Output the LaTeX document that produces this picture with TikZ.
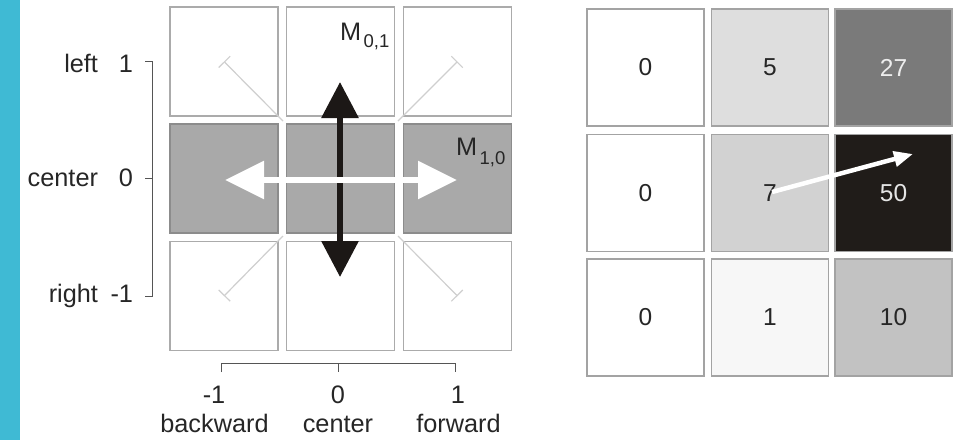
\documentclass[tikz,border=0pt]{standalone}
\usepackage{fontspec}
\setmainfont{Liberation Sans}
\usetikzlibrary{arrows.meta}
\definecolor{bluebar}{HTML}{3FBAD4}
\definecolor{boxedge}{HTML}{ABABAB}
\definecolor{midfill}{HTML}{A9A9A9}
\definecolor{midedge}{HTML}{8C8C8C}
\definecolor{diagc}{HTML}{CFCFCF}
\definecolor{txt}{HTML}{262626}
\definecolor{axisc}{HTML}{555555}
\definecolor{blk}{HTML}{1C1816}
\definecolor{cA}{HTML}{FFFFFF}
\definecolor{cB}{HTML}{DEDEDE}
\definecolor{cC}{HTML}{7A7A7A}
\definecolor{cD}{HTML}{D2D2D2}
\definecolor{cE}{HTML}{201C19}
\definecolor{cF}{HTML}{F7F7F7}
\definecolor{cG}{HTML}{C2C2C2}
\definecolor{rimc}{HTML}{A3A3A3}
\begin{document}
\begin{tikzpicture}[x=1pt,y=-1pt,
  lbox/.style={draw=boxedge, line width=1.5pt, fill=white, minimum width=108pt, minimum height=109pt, inner sep=0pt, outer sep=0pt},
  mbox/.style={lbox, draw=midedge, fill=midfill},
  rbox/.style={draw=rimc, line width=1.5pt, minimum width=117pt, minimum height=117pt, inner sep=0pt, outer sep=0pt, font=\fontsize{24.5}{28}\selectfont, text=txt},
  lab/.style={font=\fontsize{25.3}{29}\selectfont, text=txt, inner sep=0pt, outer sep=0pt},
  diag/.style={draw=diagc, line width=1.2pt, -{Bar[width=16pt, line width=1.2pt]}},
  axisline/.style={draw=axisc, line width=1pt}
]
\useasboundingbox (0,0) rectangle (959,440);
\fill[bluebar] (0,0) rectangle (20,440);

% left grid
\node[lbox] (L11) at (224,61.5) {};
\node[lbox] (L12) at (340.5,61.5) {};
\node[lbox] (L13) at (457.5,61.5) {};
\node[mbox] (L21) at (224,178.5) {};
\node[mbox] (L22) at (340.5,178.5) {};
\node[mbox] (L23) at (457.5,178.5) {};
\node[lbox] (L31) at (224,296) {};
\node[lbox] (L32) at (340.5,296) {};
\node[lbox] (L33) at (457.5,296) {};

% gap intersections
\coordinate (g1) at (283,121);
\coordinate (g2) at (398,121);
\coordinate (g3) at (283,236);
\coordinate (g4) at (398,236);
\draw[diag] (g1) -- (L11.center);
\draw[diag] (g2) -- (L13.center);
\draw[diag] (g3) -- (L31.center);
\draw[diag] (g4) -- (L33.center);

% black vertical double arrow
\coordinate (bt) at (340,82);
\coordinate (bb) at (340,277);
\draw[blk, line width=6pt, {Triangle[length=36pt,width=36pt]}-{Triangle[length=36pt,width=36pt]}] (bt) -- (bb);
% white horizontal double arrow
\coordinate (wl) at (225,180);
\coordinate (wr) at (457,180);
\draw[white, line width=6pt, {Triangle[length=39pt,width=37pt]}-{Triangle[length=39pt,width=37pt]}] (wl) -- (wr);

% M labels
\node[lab, anchor=base west] (m01) at (340,40) {M\hspace{2.5pt}\raisebox{-7pt}{\fontsize{18.5}{20}\selectfont 0,1}};
\node[lab, anchor=base west] (m10) at (456,155) {M\hspace{2.5pt}\raisebox{-9pt}{\fontsize{18.5}{20}\selectfont 1,0}};

% vertical axis
\coordinate (va) at (152,61.5);
\coordinate (vb) at (152,296);
\coordinate (t1) at (145,61.5);
\coordinate (t0) at (145,178.5);
\coordinate (tm) at (145,296);
\coordinate (t0r) at (152,178.5);
\draw[axisline] (t1) -- (va) -- (vb) -- (tm);
\draw[axisline] (t0) -- (t0r);
\node[lab, anchor=base east] (nl1) at (133,72) {1};
\node[lab, anchor=base east] (nl0) at (133,186.5) {0};
\node[lab, anchor=base east] (nlm) at (133,302.5) {-1};
\node[lab, anchor=base east] (wl1) at (98,72) {left};
\node[lab, anchor=base east] (wl0) at (98,186.5) {center};
\node[lab, anchor=base east] (wlm) at (98,302.5) {right};

% horizontal axis
\coordinate (ha) at (221,363);
\coordinate (hb) at (455,363);
\coordinate (ha2) at (221,372);
\coordinate (hb2) at (455,372);
\coordinate (hc) at (338,363);
\coordinate (hc2) at (338,372);
\draw[axisline] (ha2) -- (ha) -- (hb) -- (hb2);
\draw[axisline] (hc) -- (hc2);
\node[lab, anchor=base] (bx1) at (214,403) {-1};
\node[lab, anchor=base] (bx0) at (338,403) {0};
\node[lab, anchor=base] (bxp) at (458,403) {1};
\node[lab, anchor=base] (bw1) at (214.5,432) {backward};
\node[lab, anchor=base] (bw0) at (338,432) {center};
\node[lab, anchor=base] (bwp) at (458.5,432) {forward};

% right grid
\node[rbox, fill=cA] (R11) at (645.5,67.5) {0};
\node[rbox, fill=cB] (R12) at (770,67.5) {5};
\node[rbox, fill=cC, text=white!93!black] (R13) at (893.5,67.5) {27};
\node[rbox, fill=cA] (R21) at (645.5,193) {0};
\node[rbox, fill=cD] (R22) at (770,193) {7};
\node[rbox, fill=cE, text=white!90!black] (R23) at (893.5,193) {50};
\node[rbox, fill=cA] (R31) at (645.5,317.5) {0};
\node[rbox, fill=cF] (R32) at (770,317.5) {1};
\node[rbox, fill=cG] (R33) at (893.5,317.5) {10};

\coordinate (ra) at (772,192);
\coordinate (rb) at (913,154);
\draw[white, line width=4.5pt, -{Triangle[length=19pt,width=15pt]}] (ra) -- (rb);
\end{tikzpicture}
\end{document}
